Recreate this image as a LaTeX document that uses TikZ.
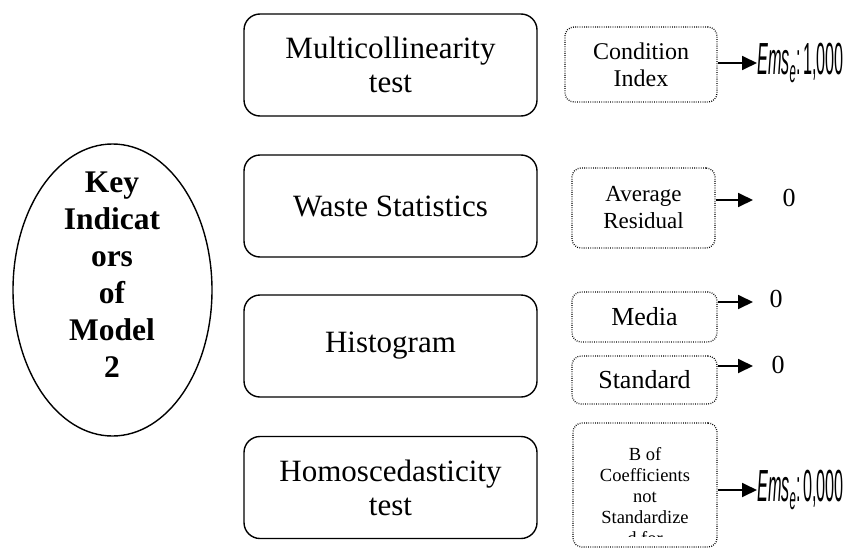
\documentclass[tikz,border=0pt]{standalone}
\usepackage{graphicx}
\usepackage{fontspec}
\setmainfont{Liberation Serif}
\newfontfamily\emsfont{Liberation Sans}
\usetikzlibrary{shapes.geometric,arrows.meta}
\newcommand\emsval[1]{\scalebox{0.36}[1]{\emsfont\fontsize{45}{45}\selectfont\itshape Ems\textsubscript{e}\upshape:\,#1}}
\begin{document}
\begin{tikzpicture}[x=1pt,y=-1pt,
  mainbox/.style={draw,rounded corners=16pt,line width=1.4pt,minimum width=293pt,minimum height=102pt,align=center,font=\fontsize{31}{34}\selectfont,inner sep=0pt},
  dotbox/.style={draw,rounded corners=9pt,line width=1.3pt,dash pattern=on 0.8pt off 1.4pt,align=center,inner sep=0pt},
  arr/.style={line width=1.8pt,-{Triangle[length=15pt,width=14pt]}},
  valtxt/.style={font=\fontsize{26}{26}\selectfont,inner sep=0pt},
  emstxt/.style={inner sep=0pt,anchor=west}]
\useasboundingbox (0,0) rectangle (850,551);
% key ellipse
\node[draw,ellipse,line width=1.4pt,minimum width=199pt,minimum height=292pt,inner sep=0pt] (key) at (112.5,290) {};
\node[font=\bfseries\fontsize{31.5}{37}\selectfont,align=center,inner sep=0pt] (keytxt) at (112,275) {Key\\Indicat\\ors\\of\\Model\\2};
% main boxes
\node[mainbox] (m1) at (390.5,65) {Multicollinearity\\test};
\node[mainbox] (m2) at (390.5,206) {Waste Statistics};
\node[mainbox] (m3) at (390.5,346) {Histogram};
\node[mainbox] (m4) at (390.5,487.5) {Homoscedasticity\\test};
% dotted boxes
\node[dotbox,minimum width=152pt,minimum height=75pt,font=\fontsize{24}{27}\selectfont] (d1) at (641,64.5) {Condition\\Index};
\node[dotbox,minimum width=143pt,minimum height=80pt,font=\fontsize{23}{27}\selectfont] (d2) at (643.5,208) {Average\\Residual};
\node[dotbox,minimum width=145pt,minimum height=50pt,font=\fontsize{26}{28}\selectfont] (d3) at (644.5,317) {Media};
\node[dotbox,minimum width=145pt,minimum height=48pt,font=\fontsize{26}{28}\selectfont] (d4) at (644.5,380) {Standard};
\node[dotbox,minimum width=144pt,minimum height=124pt] (d5) at (645,485) {};
\begin{scope}
  \clip (d5.north west) rectangle ([yshift=11pt]d5.south east);
  \node[align=center,font=\fontsize{18.5}{21}\selectfont,inner sep=0pt] (d5txt) at (645,496) {B of\\Coefficients\\not\\Standardize\\d for};
\end{scope}
% values
\node[emstxt] (ems1) at (757,63) {\emsval{1,000}};
\node[emstxt] (ems2) at (757,490) {\emsval{0,000}};
\node[valtxt] (z2) at (789,198) {0};
\node[valtxt] (z3) at (776,299) {0};
\node[valtxt] (z4) at (778,365) {0};
\coordinate (z2a) at (753,200);
\coordinate (z3a) at (753,302);
\coordinate (z4a) at (753,366);
% arrows
\draw[arr] (d1.east |- ems1.west) -- (ems1.west);
\draw[arr] (d2.east |- z2a) -- (z2a);
\draw[arr] (d3.east |- z3a) -- (z3a);
\draw[arr] (d4.east |- z4a) -- (z4a);
\draw[arr] (d5.east |- ems2.west) -- (ems2.west);
\end{tikzpicture}
\end{document}
